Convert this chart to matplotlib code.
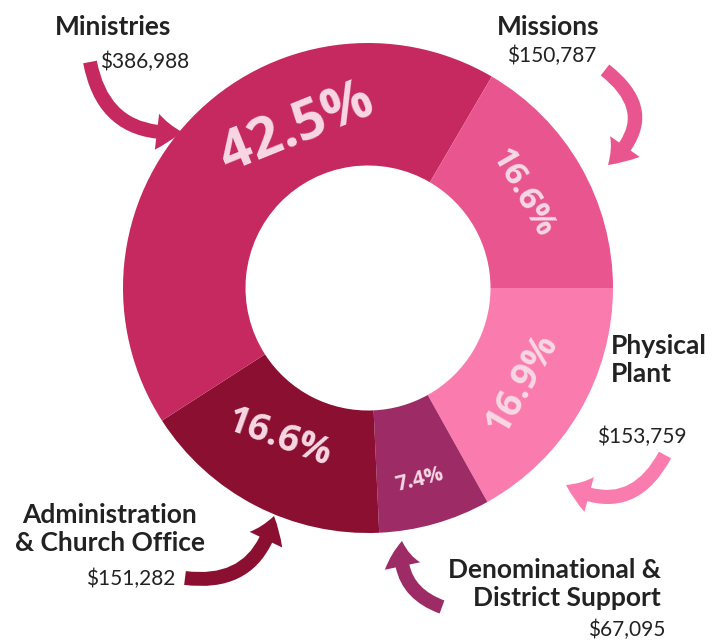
import matplotlib.pyplot as plt
import numpy as np

# ==============================
# data
# ==============================
categories = ["Physical\nPlant", "Denominational &\nDistrict Support",
              "Administration\n& Church Office", "Ministries", "Missions"]
amounts = [153759, 67095, 151282, 386988, 150787]
colors = ["#fa7cae", "#9c2b66", "#8b0f31", "#c6295f", "#e9558f"]

W, H = 717, 643
fig = plt.figure(figsize=(W / 100, H / 100), dpi=100)
ax = fig.add_axes([0, 0, 1, 1])

cx, cy, R = 368, 355, 245
ax.pie(amounts, colors=colors, startangle=0, counterclock=False,
       radius=R, center=(cx, cy), wedgeprops=dict(width=R * 0.5, linewidth=0))
ax.set_xlim(0, W)
ax.set_ylim(0, H)
ax.set_aspect("equal")
ax.axis("off")

total = sum(amounts)
pcts = [a / total * 100 for a in amounts]

# percentage labels: (angle deg, radius fraction, rotation, size)
pct_pos = [(-31.5, 0.74, 60, 27), (-75, 0.81, 14, 15), (-120.5, 0.71, -20, 27),
           (114, 0.71, 22, 40), (31.5, 0.74, -60, 24)]
for p, (ang, rf, rot, fs) in zip(pcts, pct_pos):
    a = np.deg2rad(ang)
    ax.text(cx + rf * R * np.cos(a), cy + rf * R * np.sin(a), f"{p:.1f}%",
            rotation=rot, ha="center", va="center", fontsize=fs,
            color="#f8d8e4", fontfamily="Open Sans", fontweight="bold")

txt = dict(color="#222222", fontfamily="Lato")
big = dict(fontsize=19, fontweight="bold", linespacing=1.2, **txt)
small = dict(fontsize=15, **txt)
# Ministries
ax.text(55, H - 27, categories[3], ha="left", va="center", **big)
ax.text(100, H - 62, "$386,988", ha="left", va="center", **small)
# Missions
ax.text(548, H - 27, categories[4], ha="center", va="center", **big)
ax.text(552, H - 56, "$150,787", ha="center", va="center", **small)
# Physical Plant
ax.text(611, H - 360, categories[0], ha="left", va="center", **big)
ax.text(597, H - 437, "$153,759", ha="left", va="center", **small)
# Administration
ax.text(110, H - 529, categories[2], ha="center", va="center", **big)
ax.text(131, H - 579, "$151,282", ha="center", va="center", **small)
# Denominational
ax.text(661, H - 584, categories[1], ha="right", va="center", **big)
ax.text(665, H - 630, "$67,095", ha="right", va="center", **small)

# curved arrows
arrows = [
    ((90, H - 62), (182, H - 132), 0.45, colors[3]),
    ((605, H - 70), (608, H - 165), -0.6, colors[4]),
    ((665, H - 455), (566, H - 485), -0.5, colors[0]),
    ((442, H - 607), (402, H - 541), -0.4, colors[1]),
    ((185, H - 578), (274, H - 516), 0.45, colors[2]),
]
for (x0, y0), (x1, y1), rad, c in arrows:
    ax.annotate("", xy=(x1, y1), xytext=(x0, y0),
                arrowprops=dict(arrowstyle="simple,head_length=0.9,head_width=1.3,tail_width=0.5",
                                connectionstyle=f"arc3,rad={rad}", color=c, lw=0,
                                mutation_scale=20, shrinkA=0, shrinkB=0))

fig.savefig("out.png", dpi=100)
